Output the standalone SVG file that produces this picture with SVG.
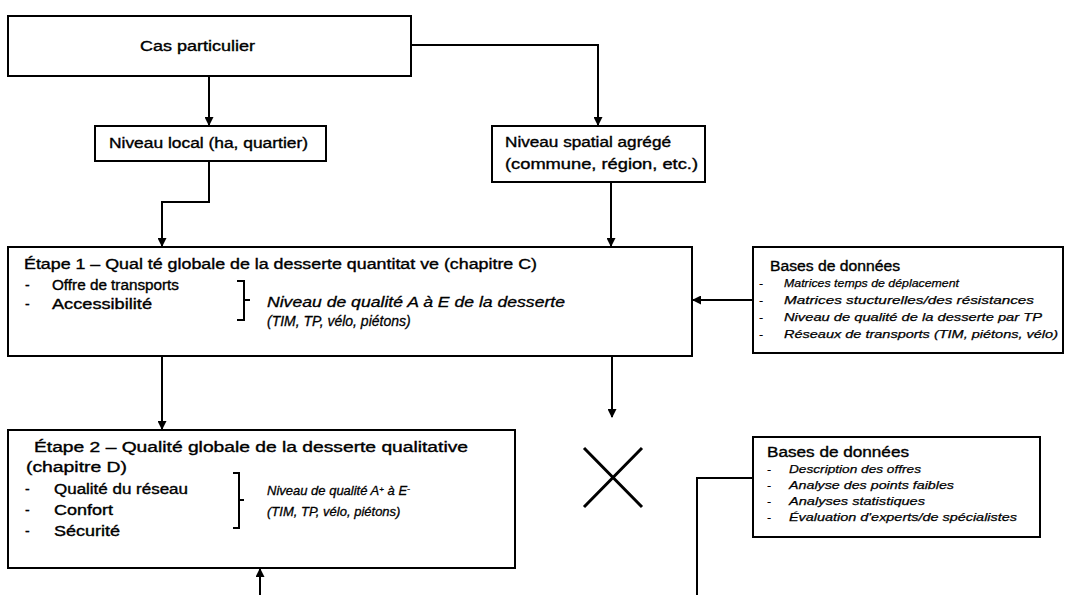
<svg xmlns="http://www.w3.org/2000/svg" width="1065" height="595" viewBox="0 0 1065 595">
<defs>
<marker id="ah" markerWidth="9" markerHeight="9" refX="8" refY="4.5" orient="auto" markerUnits="userSpaceOnUse">
<path d="M0,0 L9,4.5 L0,9 Z" fill="#000"/>
</marker>
<style>
.box{fill:#fff;stroke:#000;stroke-width:2}
.ln{fill:none;stroke:#000;stroke-width:2}
.t{font-family:"Liberation Sans",Arial,sans-serif;font-size:14px;fill:#000;stroke:#000;stroke-width:0.35}
.i{font-family:"Liberation Sans",Arial,sans-serif;font-size:14px;font-style:italic;fill:#000;stroke:#000;stroke-width:0.3}
.i2{font-family:"Liberation Sans",Arial,sans-serif;font-size:13px;font-style:italic;fill:#000;stroke:#000;stroke-width:0.3}
.s{font-family:"Liberation Sans",Arial,sans-serif;font-size:11.5px;font-style:italic;fill:#000;stroke:#000;stroke-width:0.25}
</style>
</defs>
<rect width="1065" height="595" fill="#fff"/>
<g id="connectors">
<path class="ln" d="M209,76 V125" marker-end="url(#ah)"/>
<path class="ln" d="M411,45 H598 V125" marker-end="url(#ah)"/>
<path class="ln" d="M209,161 V202 H162 V246" marker-end="url(#ah)"/>
<path class="ln" d="M611,182 V246" marker-end="url(#ah)"/>
<path class="ln" d="M753,300 H693" marker-end="url(#ah)"/>
<path class="ln" d="M162,356 V429" marker-end="url(#ah)"/>
<path class="ln" d="M612,356 V417" marker-end="url(#ah)"/>
<path class="ln" d="M260,595 V569" marker-end="url(#ah)"/>
<path class="ln" d="M753,478 H697 V595"/>
</g>
<g id="cas">
<rect class="box" x="8" y="16" width="403" height="60"/>
<text class="t" x="140" y="51" textLength="115" lengthAdjust="spacingAndGlyphs">Cas particulier</text>
</g>
<g id="local">
<rect class="box" x="95" y="126" width="231" height="35"/>
<text class="t" x="109" y="148" textLength="199" lengthAdjust="spacingAndGlyphs">Niveau local (ha, quartier)</text>
</g>
<g id="spatial">
<rect class="box" x="492" y="126" width="213" height="56"/>
<text class="t" x="505" y="147" textLength="166" lengthAdjust="spacingAndGlyphs">Niveau spatial agrégé</text>
<text class="t" x="505" y="169" textLength="193" lengthAdjust="spacingAndGlyphs">(commune, région, etc.)</text>
</g>
<g id="etape1">
<rect class="box" x="8" y="247" width="684" height="109"/>
<text class="t" x="24" y="269" textLength="513" lengthAdjust="spacingAndGlyphs">Étape 1 – Qual té globale de la desserte quantitat ve (chapitre C)</text>
<text class="t" x="25" y="290">-</text>
<text class="t" x="52" y="290" textLength="127" lengthAdjust="spacingAndGlyphs">Offre de transports</text>
<text class="t" x="25" y="309">-</text>
<text class="t" x="52" y="309" textLength="100" lengthAdjust="spacingAndGlyphs">Accessibilité</text>
<path class="ln" d="M237,281 H244 V320 H237 M244,300 H250"/>
<text class="i" x="267" y="307" textLength="298" lengthAdjust="spacingAndGlyphs">Niveau de qualité A à E de la desserte</text>
<text class="i" x="267" y="326">(TIM, TP, vélo, piétons)</text>
</g>
<g id="db1">
<rect class="box" x="753" y="247" width="310" height="106"/>
<text class="t" x="770" y="271" textLength="130" lengthAdjust="spacingAndGlyphs">Bases de données</text>
<text class="s" x="759" y="287">-</text>
<text class="s" x="784" y="287" textLength="175" lengthAdjust="spacingAndGlyphs">Matrices temps de déplacement</text>
<text class="s" x="759" y="304">-</text>
<text class="s" x="784" y="304" textLength="250" lengthAdjust="spacingAndGlyphs">Matrices stucturelles/des résistances</text>
<text class="s" x="759" y="321">-</text>
<text class="s" x="784" y="321" textLength="258" lengthAdjust="spacingAndGlyphs">Niveau de qualité de la desserte par TP</text>
<text class="s" x="759" y="338">-</text>
<text class="s" x="784" y="338" textLength="274" lengthAdjust="spacingAndGlyphs">Réseaux de transports (TIM, piétons, vélo)</text>
</g>
<g id="etape2">
<rect class="box" x="8" y="430" width="507" height="138"/>
<text class="t" x="34" y="452" textLength="434" lengthAdjust="spacingAndGlyphs">Étape 2 – Qualité globale de la desserte qualitative</text>
<text class="t" x="26" y="472" textLength="101" lengthAdjust="spacingAndGlyphs">(chapitre D)</text>
<text class="t" x="25" y="494">-</text>
<text class="t" x="54" y="494" textLength="134" lengthAdjust="spacingAndGlyphs">Qualité du réseau</text>
<text class="t" x="25" y="515">-</text>
<text class="t" x="54" y="515" textLength="59" lengthAdjust="spacingAndGlyphs">Confort</text>
<text class="t" x="25" y="536">-</text>
<text class="t" x="54" y="536" textLength="66" lengthAdjust="spacingAndGlyphs">Sécurité</text>
<path class="ln" d="M233,473 H239 V528 H233 M239,500 H244"/>
<text class="i2" x="267" y="495">Niveau de qualité A<tspan baseline-shift="35%" font-size="8">+</tspan> à E<tspan baseline-shift="35%" font-size="9">-</tspan></text>
<text class="i2" x="267" y="516">(TIM, TP, vélo, piétons)</text>
</g>
<g id="x">
<path class="ln" style="stroke-width:3" d="M584,448 L642,507 M642,448 L584,507"/>
</g>
<g id="db2">
<rect class="box" x="753" y="437" width="287" height="100"/>
<text class="t" x="767" y="457" textLength="142" lengthAdjust="spacingAndGlyphs">Bases de données</text>
<text class="s" x="767" y="473">-</text>
<text class="s" x="789" y="473" textLength="132" lengthAdjust="spacingAndGlyphs">Description des offres</text>
<text class="s" x="767" y="489">-</text>
<text class="s" x="789" y="489" textLength="165" lengthAdjust="spacingAndGlyphs">Analyse des points faibles</text>
<text class="s" x="767" y="505">-</text>
<text class="s" x="789" y="505" textLength="136" lengthAdjust="spacingAndGlyphs">Analyses statistiques</text>
<text class="s" x="767" y="521">-</text>
<text class="s" x="789" y="521" textLength="228" lengthAdjust="spacingAndGlyphs">Évaluation d'experts/de spécialistes</text>
</g>
</svg>
